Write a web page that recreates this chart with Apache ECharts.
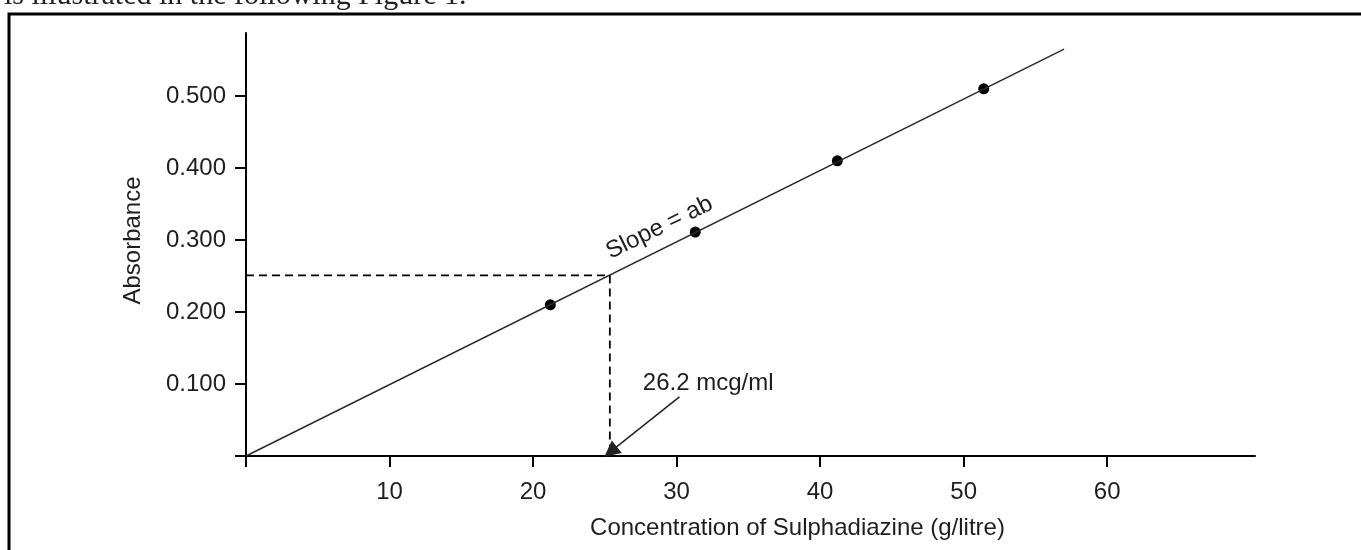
<!DOCTYPE html>
<html>
<head>
<meta charset="utf-8">
<script src="https://cdn.jsdelivr.net/npm/echarts@6/dist/echarts.min.js"></script>
<style>
html,body{margin:0;padding:0;background:#fff;}
#chart{width:1361px;height:550px;}
</style>
</head>
<body>
<div id="chart"></div>
<script>
// ---- data ----
const concentration = [21.2, 31.3, 41.2, 51.4];
const absorbance = [0.210, 0.311, 0.410, 0.510];
const fitX = [0, 57.0];
const fitY = [0, 0.565];
const readX = 25.35;
const readY = 0.251;
const arrowFrom = [30.2, 0.082];
const arrowTo = [25.4, 0.006];
const concLabelAt = [27.65, 0.101];
const slopeLabelAt = [28.8, 0.317];
const xTickValues = [0, 10, 20, 30, 40, 50, 60];
const xLabelValues = [10, 20, 30, 40, 50, 60];
const yTickValues = [0, 0.1, 0.2, 0.3, 0.4, 0.5];
const yLabelValues = [0.1, 0.2, 0.3, 0.4, 0.5];
const xMax = 70.3;
const yMax = 0.5875;

const FONT = '"Liberation Sans", Arial, sans-serif';
const TXT = '#1e1e1e';
const chart = echarts.init(document.getElementById('chart'), null, {renderer: 'canvas'});

const option = {
  animation: false,
  backgroundColor: '#fff',
  grid: {left: 246, top: 33, right: 106, bottom: 94, containLabel: false},
  xAxis: {
    type: 'value', min: 0, max: xMax,
    name: 'Concentration of Sulphadiazine (g/litre)',
    nameLocation: 'middle', nameGap: 60,
    nameTextStyle: {fontFamily: FONT, fontSize: 24, color: TXT, padding: [0, 0, 0, 94]},
    axisLine: {show: true, onZero: false, lineStyle: {color: '#000', width: 2}},
    axisTick: {show: true, length: 11, lineStyle: {color: '#000', width: 2}, customValues: xTickValues},
    axisLabel: {show: true, margin: 24, fontFamily: FONT, fontSize: 24, color: TXT, customValues: xLabelValues},
    splitLine: {show: false}
  },
  yAxis: {
    type: 'value', min: 0, max: yMax,
    name: 'Absorbance',
    nameLocation: 'middle', nameGap: 101,
    nameTextStyle: {fontFamily: FONT, fontSize: 24, color: TXT, padding: [0, 0, 0, 8]},
    axisLine: {show: true, onZero: false, lineStyle: {color: '#000', width: 2}},
    axisTick: {show: true, length: 11, lineStyle: {color: '#000', width: 2}, customValues: yTickValues},
    axisLabel: {show: true, margin: 20, fontFamily: FONT, fontSize: 24, color: TXT,
      customValues: yLabelValues, formatter: v => v.toFixed(3)},
    splitLine: {show: false}
  },
  series: [
    {
      type: 'line', silent: true, symbol: 'none',
      data: fitX.map((x, i) => [x, fitY[i]]),
      lineStyle: {color: '#2a2a2a', width: 1.5}
    },
    {
      type: 'line', silent: true, symbol: 'none',
      data: [[0, readY], [readX, readY], [readX, 0]],
      lineStyle: {color: '#000', width: 1.8, type: [8, 5]}
    },
    {
      type: 'line', silent: true, symbol: 'none', data: [],
      markLine: {
        silent: true, symbol: ['none', 'triangle'], symbolSize: 16,
        label: {show: false},
        itemStyle: {color: '#000'},
        lineStyle: {color: '#222', width: 1.5, type: 'solid', opacity: 1},
        data: [[{coord: arrowFrom}, {coord: arrowTo}]]
      }
    },
    {
      type: 'scatter', silent: true, symbol: 'circle', symbolSize: 11,
      itemStyle: {color: '#000', opacity: 1},
      data: concentration.map((x, i) => [x, absorbance[i]])
    },
    {
      type: 'scatter', silent: true, symbolSize: 0,
      itemStyle: {opacity: 1},
      data: [
        {value: concLabelAt, label: {show: true, position: 'right', distance: 0, formatter: '26.2 mcg/ml',
          fontFamily: FONT, fontSize: 24, color: TXT, opacity: 1}},
        {value: slopeLabelAt, label: {show: true, position: 'inside', rotate: 26, formatter: 'Slope = ab',
          fontFamily: FONT, fontSize: 24, color: TXT, opacity: 1, textBorderWidth: 0}}
      ]
    }
  ],
  graphic: [
    {type: 'polyline', shape: {points: [[9, 550], [9, 14], [1361, 14]]},
      style: {stroke: '#000', lineWidth: 3, fill: null}, silent: true},
    {type: 'text', left: 4, top: -19,
      style: {text: 'is illustrated in the following Figure 1.', font: '30px "Liberation Serif", serif', fill: '#222'}, silent: true}
  ]
};
chart.setOption(option);
</script>
</body>
</html>
